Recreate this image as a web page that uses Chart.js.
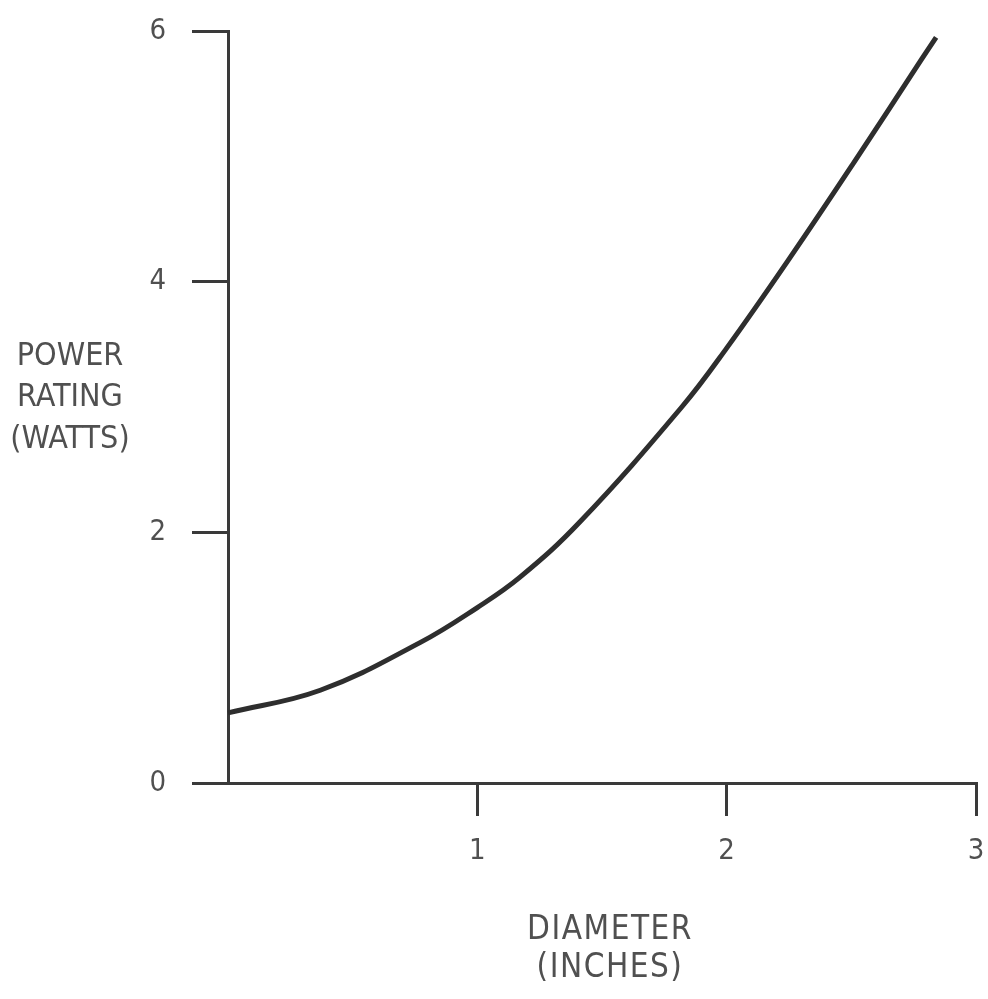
<!DOCTYPE html>
<html>
<head>
<meta charset="utf-8">
<script src="https://cdn.jsdelivr.net/npm/chart.js@4.4.1/dist/chart.umd.min.js"></script>
<style>
  html, body { margin: 0; padding: 0; background: #ffffff; }
  #wrap { width: 988px; height: 999px; }
</style>
</head>
<body>
<div id="wrap"><canvas id="c" width="988" height="999"></canvas></div>
<script>
// Diameter (inches) and power rating (watts) along the curve
const diameterInches = [0, 0.37, 0.77, 1.0, 1.17, 1.41, 1.82, 2.0, 2.25, 2.51, 2.78, 2.84];
const powerWatts     = [0.56, 0.74, 1.12, 1.40, 1.64, 2.08, 3.00, 3.47, 4.18, 4.95, 5.77, 5.95];

const xTicks = [0, 1, 2, 3];
const yTicks = [0, 2, 4, 6];

const yTitleLines = ['POWER', 'RATING', '(WATTS)'];
const xTitleLines = ['DIAMETER', '(INCHES)'];

const ink = '#3a3a3a';
const labelInk = '#505050';
const fontFamily = '"Liberation Sans Narrow", "DejaVu Sans Condensed", "Liberation Sans", sans-serif';

const points = diameterInches.map((d, i) => ({ x: d, y: powerWatts[i] }));

// Horizontal, multi-line axis titles
const axisTitles = {
  id: 'axisTitles',
  afterDraw(chart) {
    const ctx = chart.ctx;
    ctx.save();
    ctx.fillStyle = labelInk;
    ctx.textAlign = 'center';
    ctx.textBaseline = 'middle';
    ctx.font = '32px ' + fontFamily;
    const yCenters = [357, 398, 440];
    yTitleLines.forEach((t, i) => ctx.fillText(t, 70, yCenters[i]));
    ctx.font = '33px ' + fontFamily;
    if ('letterSpacing' in ctx) ctx.letterSpacing = '1.5px';
    const xCenters = [930, 968];
    xTitleLines.forEach((t, i) => ctx.fillText(t, 610, xCenters[i]));
    ctx.restore();
  }
};

new Chart(document.getElementById('c'), {
  type: 'scatter',
  data: {
    datasets: [{
      data: points,
      showLine: true,
      borderColor: '#2e2e2e',
      borderWidth: 5,
      pointRadius: 0,
      tension: 0.4,
      fill: false,
      clip: false
    }]
  },
  options: {
    responsive: false,
    animation: false,
    devicePixelRatio: 1,
    layout: { padding: { top: 31, right: 12, left: 0, bottom: 0 } },
    plugins: {
      legend: { display: false },
      tooltip: { enabled: false }
    },
    scales: {
      x: {
        type: 'linear',
        min: 0,
        max: 3,
        afterBuildTicks(scale) { scale.ticks = xTicks.map(v => ({ value: v })); },
        afterFit(scale) {
          scale.height = 216;
          scale.paddingLeft = 0;
          scale.paddingRight = 0;
        },
        border: { display: true, color: ink, width: 3 },
        grid: {
          drawOnChartArea: false,
          drawTicks: true,
          tickLength: 33,
          color: ink,
          lineWidth: 3
        },
        ticks: {
          padding: 18,
          color: labelInk,
          font: { family: fontFamily, size: 29 },
          callback: v => (v === 0 ? null : String(v))
        }
      },
      y: {
        type: 'linear',
        min: 0,
        max: 6,
        afterBuildTicks(scale) { scale.ticks = yTicks.map(v => ({ value: v })); },
        afterFit(scale) {
          scale.width = 228;
          scale.paddingTop = 0;
          scale.paddingBottom = 0;
        },
        border: { display: true, color: ink, width: 3 },
        grid: {
          drawOnChartArea: false,
          drawTicks: true,
          tickLength: 36,
          color: ink,
          lineWidth: 3
        },
        ticks: {
          padding: 26,
          color: labelInk,
          font: { family: fontFamily, size: 29 },
          callback: v => String(v)
        }
      }
    }
  },
  plugins: [axisTitles]
});
</script>
</body>
</html>
